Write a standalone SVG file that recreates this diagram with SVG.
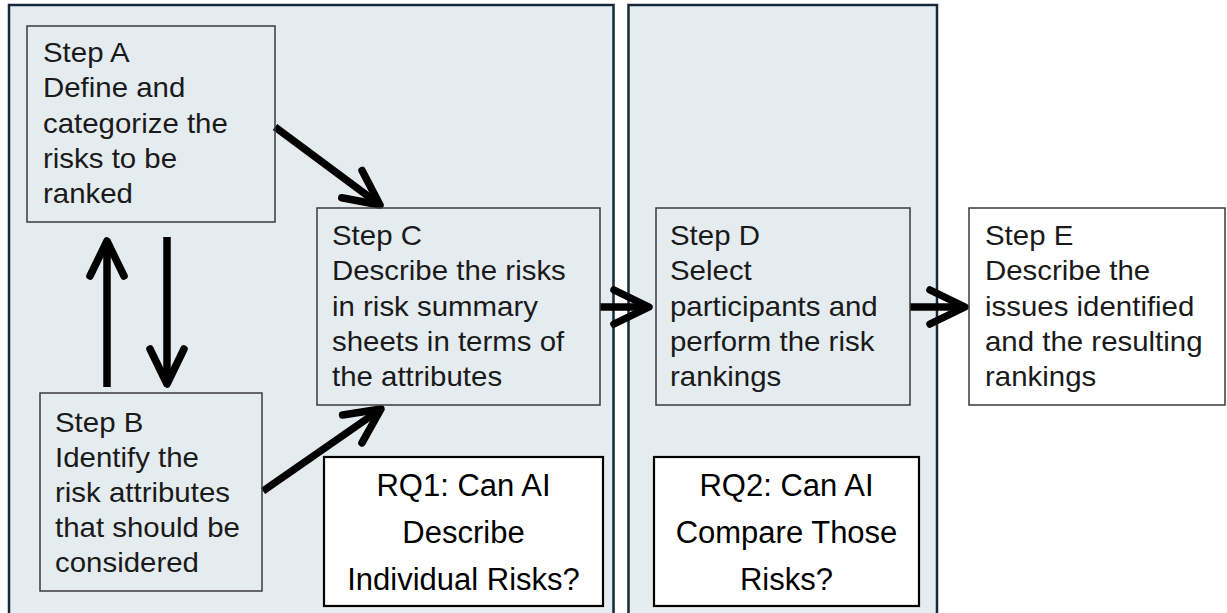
<svg xmlns="http://www.w3.org/2000/svg" width="1227" height="613" viewBox="0 0 1227 613">
<defs>
<style>
.panel{fill:#e5ecf0;stroke:#15293c;stroke-width:2.5}
.step{fill:none;stroke:#3a3a3a;stroke-width:1.5}
.stepw{fill:#ffffff;stroke:#3a3a3a;stroke-width:1.5}
.rq{fill:#ffffff;stroke:#000000;stroke-width:2.2}
.t{font-family:"Liberation Sans",Arial,sans-serif;font-size:27px;fill:#1a1a1a}
.q{font-family:"Liberation Sans",Arial,sans-serif;font-size:31px;fill:#000000;text-anchor:middle}
.arr{stroke:#000000;stroke-width:7.5;fill:none;marker-end:url(#head)}
</style>
<marker id="head" markerUnits="userSpaceOnUse" viewBox="-45 -25 55 50" refX="0" refY="0" markerWidth="55" markerHeight="50" orient="auto" overflow="visible">
<path d="M-35,-17 L0,0 L-35,17" fill="none" stroke="#000000" stroke-width="7.5" stroke-linecap="round" stroke-linejoin="round"/>
</marker>
</defs>
<rect width="1227" height="613" fill="#ffffff"/>
<g id="panel1"><rect class="panel" x="9" y="5" width="604.5" height="615"/></g>
<g id="panel2"><rect class="panel" x="628.5" y="5" width="308.5" height="615"/></g>
<g id="connectors">
<line class="arr" x1="275" y1="127" x2="380" y2="205"/>
<line class="arr" x1="263" y1="491" x2="381" y2="409"/>
<line class="arr" x1="107" y1="387" x2="107" y2="241"/>
<line class="arr" x1="167" y1="237" x2="167" y2="384"/>
<line class="arr" x1="600" y1="307" x2="649" y2="307"/>
<line class="arr" x1="910" y1="307" x2="965" y2="307"/>
</g>
<g id="stepA">
<rect class="step" x="27" y="26" width="248" height="196"/>
<g transform="translate(43,0) scale(1.09,1)">
<text class="t" x="0" y="62">Step A</text>
<text class="t" x="0" y="97">Define and</text>
<text class="t" x="0" y="133">categorize the</text>
<text class="t" x="0" y="168">risks to be</text>
<text class="t" x="0" y="203">ranked</text>
</g>
</g>
<g id="stepB">
<rect class="step" x="40" y="393" width="222" height="198"/>
<g transform="translate(55,0) scale(1.09,1)">
<text class="t" x="0" y="432">Step B</text>
<text class="t" x="0" y="467">Identify the</text>
<text class="t" x="0" y="502">risk attributes</text>
<text class="t" x="0" y="537">that should be</text>
<text class="t" x="0" y="572">considered</text>
</g>
</g>
<g id="stepC">
<rect class="step" x="317" y="208" width="283" height="197"/>
<g transform="translate(332,0) scale(1.09,1)">
<text class="t" x="0" y="245">Step C</text>
<text class="t" x="0" y="280">Describe the risks</text>
<text class="t" x="0" y="316">in risk summary</text>
<text class="t" x="0" y="351">sheets in terms of</text>
<text class="t" x="0" y="386">the attributes</text>
</g>
</g>
<g id="stepD">
<rect class="step" x="656" y="208" width="254" height="197"/>
<g transform="translate(670,0) scale(1.09,1)">
<text class="t" x="0" y="245">Step D</text>
<text class="t" x="0" y="280">Select</text>
<text class="t" x="0" y="316">participants and</text>
<text class="t" x="0" y="351">perform the risk</text>
<text class="t" x="0" y="386">rankings</text>
</g>
</g>
<g id="stepE">
<rect class="stepw" x="969" y="208" width="256" height="197"/>
<g transform="translate(985,0) scale(1.09,1)">
<text class="t" x="0" y="245">Step E</text>
<text class="t" x="0" y="280">Describe the</text>
<text class="t" x="0" y="316">issues identified</text>
<text class="t" x="0" y="351">and the resulting</text>
<text class="t" x="0" y="386">rankings</text>
</g>
</g>
<g id="rq1">
<rect class="rq" x="324" y="457" width="279" height="149"/>
<text class="q" x="463.5" y="496">RQ1: Can AI</text>
<text class="q" x="463.5" y="543">Describe</text>
<text class="q" x="463.5" y="590">Individual Risks?</text>
</g>
<g id="rq2">
<rect class="rq" x="654" y="457" width="265" height="149"/>
<text class="q" x="786.5" y="496">RQ2: Can AI</text>
<text class="q" x="786.5" y="543">Compare Those</text>
<text class="q" x="786.5" y="590">Risks?</text>
</g>
</svg>
